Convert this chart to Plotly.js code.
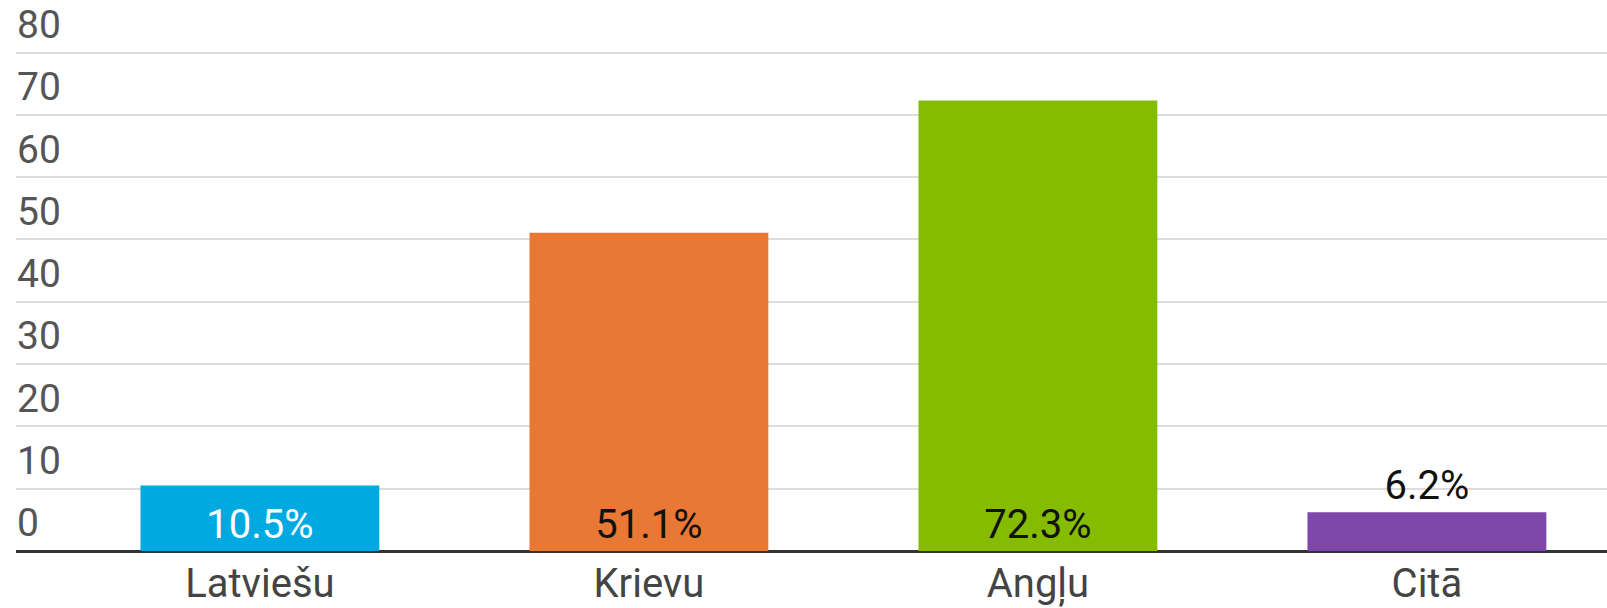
<!DOCTYPE html>
<html>
<head>
<meta charset="utf-8">
<script src="https://cdn.plot.ly/plotly-3.0.1.min.js"></script>
<style>
  html, body { margin: 0; padding: 0; background: #fff; }
  #chart { width: 1607px; height: 608px; }
</style>
</head>
<body>
<div id="chart"></div>
<script>
// language shares, %
const categories = ['Latviešu', 'Krievu', 'Angļu', 'Citā'];
const values = [10.5, 51.1, 72.3, 6.2];
const barColors = ['#00a9e0', '#e87834', '#85bc00', '#8047aa'];
const labelColors = ['#ffffff', '#111111', '#111111', '#111111'];
const labelPositions = ['inside', 'inside', 'inside', 'outside'];
const yTicks = [0, 10, 20, 30, 40, 50, 60, 70, 80];
const yRange = [0, 88.44];

const xIdx = categories.map((c, i) => i);

const bars = {
  type: 'bar',
  x: xIdx,
  y: values,
  marker: { color: barColors, line: { width: 0 } },
  text: values.map(v => v.toFixed(1) + '%'),
  textposition: labelPositions,
  insidetextanchor: 'start',
  constraintext: 'none',
  cliponaxis: false,
  textfont: { family: 'Roboto, sans-serif', size: 40, color: labelColors },
  hoverinfo: 'skip',
};

// invisible copy so the label axis (y2) gets drawn
const labelHolder = {
  type: 'scatter',
  mode: 'markers',
  x: xIdx,
  y: values,
  yaxis: 'y2',
  marker: { opacity: 0, size: 1 },
  hoverinfo: 'skip',
  showlegend: false,
};

const layout = {
  width: 1607,
  height: 608,
  margin: { l: 16, r: 0, t: 0, b: 57 },
  plot_bgcolor: '#fff',
  paper_bgcolor: '#fff',
  bargap: 0.386,
  showlegend: false,
  font: { family: 'Roboto, sans-serif', color: '#4d4d4d' },
  xaxis: {
    range: [-0.627, 3.463],
    tickmode: 'array',
    tickvals: xIdx,
    ticktext: categories,
    ticks: '',
    ticklabelstandoff: 5,
    showgrid: false,
    zeroline: false,
    showline: false,
    tickfont: { size: 40, color: '#444444' },
    fixedrange: true,
  },
  // grid + baseline only
  yaxis: {
    range: yRange,
    tickmode: 'array',
    tickvals: yTicks,
    showticklabels: false,
    ticks: '',
    showgrid: true,
    gridcolor: '#dddddd',
    gridwidth: 2,
    zeroline: true,
    zerolinecolor: '#333333',
    zerolinewidth: 3,
    showline: false,
    fixedrange: true,
  },
  // labels sitting above each gridline, left-aligned
  yaxis2: {
    overlaying: 'y',
    side: 'right',
    anchor: 'free',
    position: 0,
    range: yRange,
    tickmode: 'array',
    tickvals: yTicks,
    ticktext: yTicks.map(String),
    ticks: '',
    ticklabelposition: 'outside top',
    ticklabelstandoff: 0,
    ticklabelshift: -1,
    showgrid: false,
    zeroline: false,
    showline: false,
    tickfont: { size: 39, color: '#555555' },
    fixedrange: true,
  },
};

Plotly.newPlot('chart', [bars, labelHolder], layout, { displayModeBar: false, staticPlot: true });
</script>
</body>
</html>
